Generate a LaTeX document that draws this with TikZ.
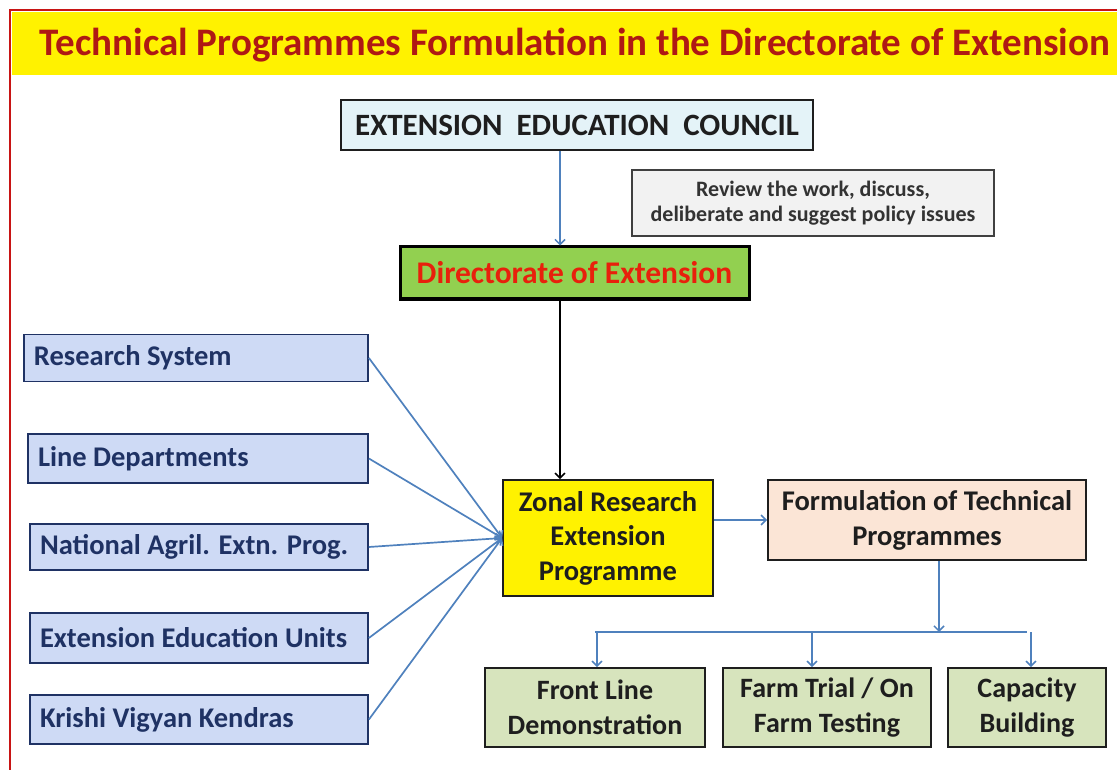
\documentclass[tikz,border=0pt]{standalone}
\usepackage{fontspec}
\setmainfont{Carlito}
\usetikzlibrary{arrows.meta,calc}
\definecolor{framered}{RGB}{200,20,20}
\definecolor{titlered}{RGB}{175,25,20}
\definecolor{lineblue}{RGB}{79,129,189}
\definecolor{eecfill}{RGB}{228,243,248}
\definecolor{revfill}{RGB}{242,242,242}
\definecolor{dirgreen}{RGB}{146,208,80}
\definecolor{dirred}{RGB}{232,32,12}
\definecolor{lavfill}{RGB}{206,218,245}
\definecolor{navy}{RGB}{31,50,100}
\definecolor{peach}{RGB}{251,229,214}
\definecolor{olivefill}{RGB}{215,228,189}
\definecolor{darktxt}{RGB}{30,30,30}
\begin{document}
\begin{tikzpicture}[x=1pt,y=-1pt,
  every node/.style={font=\bfseries, inner sep=0pt},
  box/.style={draw=darktxt, line width=1.8pt, align=center, text=darktxt},
  leftbox/.style={draw=navy, line width=1.8pt, fill=lavfill, text=navy,
     font=\bfseries\fontsize{28.5}{31}\selectfont, align=flush left, inner xsep=10pt},
  botbox/.style={box, fill=olivefill, minimum height=79pt,
     font=\bfseries\fontsize{28}{35}\selectfont},
  bline/.style={draw=lineblue, line width=1.7pt},
  barrow/.style={bline, -{Straight Barb[length=5pt,width=10pt,line width=1.5pt]}},
  karrow/.style={draw=black, line width=1.6pt, -{Straight Barb[length=5pt,width=10pt,line width=1.5pt]}}
]
\useasboundingbox (0,0) rectangle (1117,770);
\fill[white] (0,0) rectangle (1117,770);
% frame and title band
\fill[yellow] (12,12) rectangle (1117,75);
\draw[framered, line width=2pt] (1130,10) -- (10,10) -- (10,780);
\node[text=titlered, font=\bfseries\fontsize{39}{44}\selectfont] (title) at (575,45)
  {Technical Programmes Formulation in the Directorate of Extension};

% top boxes
\node[box, fill=eecfill, minimum width=472pt, minimum height=50pt,
  font=\bfseries\fontsize{31}{36}\selectfont] (eec) at (577,125)
  {EXTENSION\ \ EDUCATION\ \ COUNCIL};
\node[box, draw=black!75, line width=1.5pt, fill=revfill, minimum width=362pt, minimum height=66pt,
  text=black!80, font=\bfseries\fontsize{22}{24.5}\selectfont] (rev) at (813,203)
  {Review the work, discuss,\\deliberate\ and suggest policy issues};
\node[box, draw=black, line width=3pt, fill=dirgreen, minimum width=349pt, minimum height=52pt,
  text=dirred, font=\bfseries\fontsize{31.5}{36}\selectfont] (dir) at (574.5,273)
  {Directorate of Extension};

% left boxes
\node[leftbox, text width=324pt, minimum height=47pt] (rs) at (196,358) {Research System};
\node[leftbox, text width=320pt, minimum height=49pt] (ld) at (198,458.5) {Line Departments};
\node[leftbox, text width=318pt, minimum height=46pt] (nae) at (199,547) {National Agril. Extn. Prog.};
\node[leftbox, text width=318pt, minimum height=50pt] (eeu) at (199,638) {Extension Education\ Units};
\node[leftbox, text width=318pt, minimum height=49pt] (kvk) at (199,719.5) {Krishi Vigyan Kendras};

% middle
\node[box, fill=yellow, minimum width=210pt, minimum height=116pt,
  font=\bfseries\fontsize{28.5}{34.5}\selectfont] (zon) at (608,538)
  {Zonal Research\\Extension\\Programme};
\node[box, fill=peach, minimum width=318pt, minimum height=80pt,
  font=\bfseries\fontsize{28.5}{35}\selectfont] (form) at (927,520)
  {Formulation\ of Technical\\Programmes};

% bottom
\node[botbox, minimum width=220pt] (fld) at (595,707.5) {Front Line\\Demonstration};
\node[botbox, minimum width=208pt] (ftr) at (827,707.5) {Farm Trial / On\\Farm Testing};
\node[botbox, minimum width=158pt] (cap) at (1027,707.5) {Capacity\\Building};

% connectors
\draw[barrow] ([xshift=-17pt]eec.south) -- ([xshift=-17pt]eec.south |- dir.north);
\draw[karrow] ([xshift=-14.5pt]dir.south) -- ([xshift=-14.5pt]dir.south |- zon.north);
\foreach \n in {rs,ld,nae,eeu,kvk}
  \draw[barrow] (\n.east) -- (zon.west);
\draw[barrow] (zon.east |- form.west) -- (form.west);
\coordinate (j) at (939,632);
\draw[barrow] ([xshift=12pt]form.south) -- (j);
\draw[bline] (fld.north |- j) -- (cap.north |- j);
\draw[barrow] ([xshift=2pt]fld.north |- j) -- ([xshift=2pt]fld.north);
\draw[barrow] ([xshift=-15pt]ftr.north |- j) -- ([xshift=-15pt]ftr.north);
\draw[barrow] ([xshift=4pt]cap.north |- j) -- ([xshift=4pt]cap.north);
\end{tikzpicture}
\end{document}
